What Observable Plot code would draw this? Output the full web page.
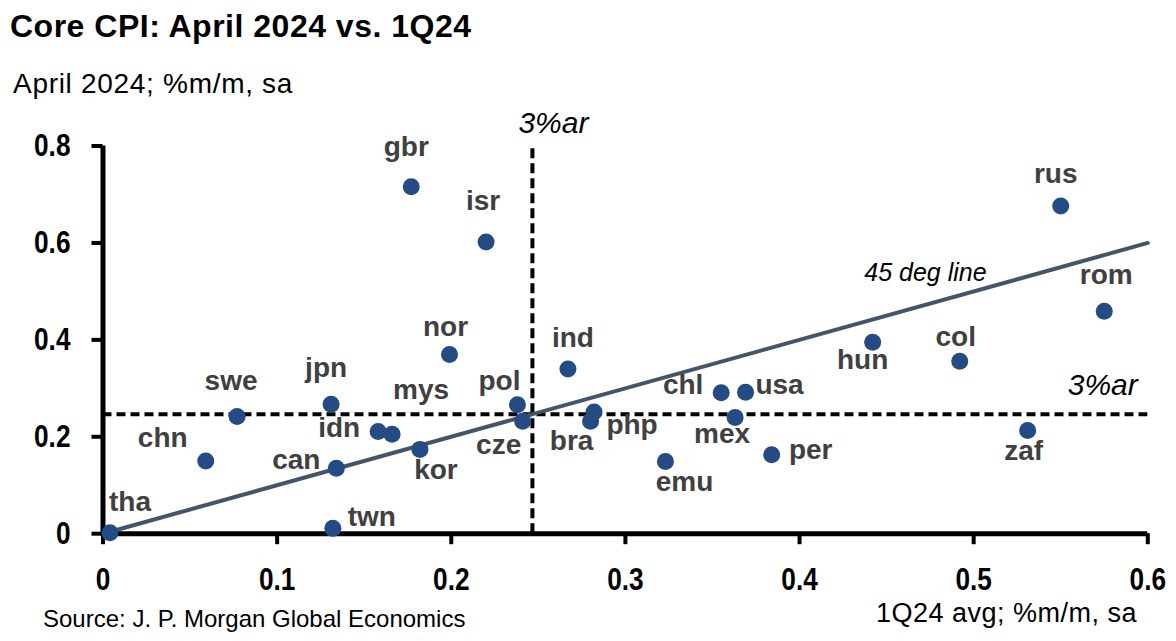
<!DOCTYPE html>
<html>
<head>
<meta charset="utf-8">
<script src="https://cdn.jsdelivr.net/npm/d3@7"></script>
<script src="https://cdn.jsdelivr.net/npm/@observablehq/plot@0.6"></script>
<style>
  html, body { margin: 0; padding: 0; background: #fff; }
  body { width: 1176px; height: 641px; overflow: hidden; font-family: "Liberation Sans", Arial, sans-serif; }
  .block { position: relative; width: 1176px; }
  #head { height: 100px; }
  #foot { height: 41px; }
  .title { position: absolute; left: 10px; top: 10px; font-size: 32px; line-height: 32px; font-weight: bold; letter-spacing: 0.5px; color: #000; white-space: nowrap; }
  .subtitle { position: absolute; left: 13px; top: 70px; font-size: 28px; line-height: 28px; letter-spacing: 0.7px; color: #000; white-space: nowrap; }
  .source { position: absolute; left: 43px; top: 7px; font-size: 24px; line-height: 24px; color: #000; white-space: nowrap; }
  .xlabel { position: absolute; right: 39px; top: 0px; font-size: 27px; line-height: 27px; letter-spacing: 0.5px; color: #000; white-space: nowrap; }
  #chart svg { display: block; }
</style>
</head>
<body>
<div id="head" class="block">
  <div class="title">Core CPI: April 2024 vs. 1Q24</div>
  <div class="subtitle">April 2024; %m/m, sa</div>
</div>
<div id="chart" class="block"></div>
<div id="foot" class="block">
  <div class="source">Source: J. P. Morgan Global Economics</div>
  <div class="xlabel">1Q24 avg; %m/m, sa</div>
</div>
<script>
// Country codes and core CPI readings (%m/m, sa)
const countries = ["tha","chn","swe","jpn","can","twn","idn","mys","kor","nor","gbr","isr","pol","cze","ind","bra","php","emu","chl","usa","mex","per","hun","col","zaf","rom","rus"];
const avg1Q24   = [0.004,0.059,0.077,0.131,0.134,0.132,0.158,0.166,0.182,0.199,0.177,0.220,0.238,0.241,0.267,0.280,0.282,0.323,0.355,0.369,0.363,0.384,0.442,0.492,0.531,0.575,0.550];
const april2024 = [0.002,0.150,0.242,0.267,0.135,0.011,0.211,0.205,0.174,0.370,0.716,0.602,0.266,0.232,0.340,0.232,0.251,0.149,0.291,0.292,0.240,0.163,0.395,0.356,0.213,0.459,0.676];

// 3% annualized rate expressed as a monthly rate
const threePctAr = 0.2466;
// 45 degree reference line endpoints
const diagonal = [0, 0.6];

const xTicks = [0, 0.1, 0.2, 0.3, 0.4, 0.5, 0.6];
const yTicks = [0, 0.2, 0.4, 0.6, 0.8];

// Label placement around each dot (pixel offsets)
const labelOffset = {
  tha: [20, -31], chn: [-43, -23], swe: [-6, -35], jpn: [-5, -36], can: [-40, -8],
  twn: [39, -11], idn: [-39, -3], mys: [29, -44], kor: [16, 21], nor: [-4, -27],
  gbr: [-5, -40], isr: [-3, -41], pol: [-18, -24], cze: [-24, 24], ind: [5, -31],
  bra: [-19, 20], php: [38, 13], emu: [19, 21], chl: [-38, -8], usa: [34, -7],
  mex: [-13, 17], per: [39, -5], hun: [-10, 18], col: [-4, -24], zaf: [-4, 21],
  rom: [2, -36], rus: [-5, -32]
};

const points = countries.map((c, i) => ({code: c, x: avg1Q24[i], y: april2024[i]}));

const dotColor = "#244b84";
const lineColor = "#44546a";
const labelColor = "#404040";
const fontFamily = "'Liberation Sans', Arial, sans-serif";
const tickFormat = d => String(d);
// tick labels are drawn in a condensed bold face
const tickCondense = 0.82;

const labelMarks = points.map(d => Plot.text([d], {
  x: "x", y: "y", text: "code",
  dx: labelOffset[d.code][0], dy: labelOffset[d.code][1],
  fill: labelColor, fontSize: 28, fontWeight: "bold", fontFamily
}));

const chart = Plot.plot({
  width: 1176,
  height: 500,
  marginLeft: 102.5,
  marginRight: 28.7,
  marginTop: 45.5,
  marginBottom: 66.8,
  style: {fontFamily, background: "#fff", overflow: "visible"},
  x: {domain: [0, 0.6]},
  y: {domain: [0, 0.8]},
  marks: [
    // dashed 3%ar guides
    Plot.ruleY([threePctAr], {x1: 0, x2: 0.6, stroke: "#000", strokeWidth: 4, strokeDasharray: "9,5"}),
    Plot.ruleX([threePctAr], {y1: 0, y2: 0.8, stroke: "#000", strokeWidth: 4, strokeDasharray: "10,5"}),
    // 45 degree line
    Plot.line(diagonal.map(v => [v, v]), {stroke: lineColor, strokeWidth: 4}),
    // axes
    Plot.axisX({ticks: xTicks, tickFormat, tickSize: 11, tickPadding: 23, strokeWidth: 4, fontSize: 32, fontWeight: "bold", fill: "#000", label: null}),
    Plot.axisY({ticks: yTicks, tickFormat, tickSize: 11, tickPadding: 21.5, strokeWidth: 4, fontSize: 32, fontWeight: "bold", fill: "#000", label: null}),
    Plot.ruleY([0], {x1: 0, x2: 0.6, stroke: "#000", strokeWidth: 5}),
    Plot.ruleX([0], {y1: 0, y2: 0.8, stroke: "#000", strokeWidth: 5}),
    // countries
    Plot.dot(points, {x: "x", y: "y", r: 8.5, fill: dotColor, stroke: null}),
    ...labelMarks,
    // annotations
    Plot.text(["3%ar"], {x: threePctAr, y: 0.8, dx: 21, dy: -23, fontSize: 30, fontStyle: "italic", fill: "#000", fontFamily}),
    Plot.text(["3%ar"], {x: 0.6, y: threePctAr, dx: -10, dy: -29, textAnchor: "end", fontSize: 30, fontStyle: "italic", fill: "#000", fontFamily}),
    Plot.text(["45 deg line"], {x: 0.47, y: 0.47, dx: 4, dy: -33, fontSize: 25, fontStyle: "italic", fill: "#000", fontFamily})
  ]
});

// Condense the axis tick labels horizontally around their anchor points
d3.select(chart)
  .selectAll('g[aria-label="x-axis tick label"] text, g[aria-label="y-axis tick label"] text')
  .each(function() {
    const t = d3.select(this);
    const x = +(t.attr("x") || 0);
    const tr = t.attr("transform") || "";
    t.attr("x", x ? x / tickCondense : null);
    t.attr("transform", `${tr} scale(${tickCondense},1)`);
  });

document.getElementById("chart").appendChild(chart);
</script>
</body>
</html>
